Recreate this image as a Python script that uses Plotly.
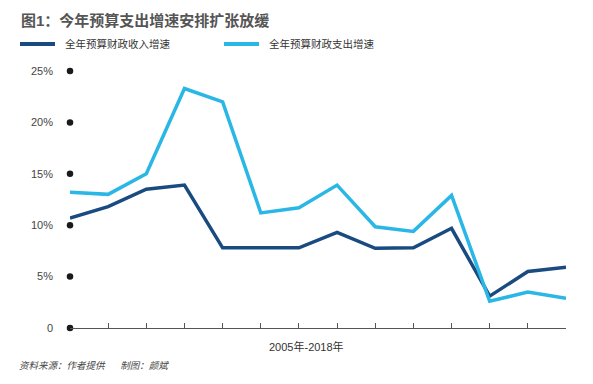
import plotly.graph_objects as go

years = list(range(2005, 2019))
revenue = [10.7, 11.8, 13.5, 13.9, 7.8, 7.8, 7.8, 9.3, 7.75, 7.8, 9.7, 3.1, 5.5, 5.9]
expenditure = [13.2, 13.0, 15.0, 23.3, 22.0, 11.2, 11.7, 13.9, 9.85, 9.4, 12.9, 2.6, 3.5, 2.9]
ytick_vals = [0, 5, 10, 15, 20, 25]
ytick_text = ["0", "5%", "10%", "15%", "20%", "25%"]
series_names = ["全年预算财政收入增速", "全年预算财政支出增速"]
title_text = "图1：今年预算支出增速安排扩张放缓"
xaxis_text = "2005年-2018年"
source_text = "资料来源：作者提供      制图：颜斌"

DARK = "#194b80"
LIGHT = "#2ab7e6"
FONT = "Liberation Sans, Arial, Noto Sans CJK SC, sans-serif"

W, H = 593, 384
L, R, T, B = 70, 27, 71, 56
pw, ph = W - L - R, H - T - B

def px(x):
    return (x - L) / pw

def py(y):
    return (H - B - y) / ph

fig = go.Figure()
fig.add_trace(go.Scatter(x=years, y=revenue, mode="lines", name=series_names[0],
                         line=dict(color=DARK, width=3.5), cliponaxis=False))
fig.add_trace(go.Scatter(x=years, y=expenditure, mode="lines", name=series_names[1],
                         line=dict(color=LIGHT, width=3.5), cliponaxis=False))
fig.add_trace(go.Scatter(x=[years[0]] * len(ytick_vals), y=ytick_vals, mode="markers",
                         marker=dict(color="#1a1a1a", size=6.5), cliponaxis=False,
                         hoverinfo="skip"))

shapes = [
    dict(type="line", xref="paper", yref="paper", x0=px(20), x1=px(55), y0=py(44), y1=py(44),
         line=dict(color=DARK, width=4)),
    dict(type="line", xref="paper", yref="paper", x0=px(224), x1=px(259), y0=py(44), y1=py(44),
         line=dict(color=LIGHT, width=4)),
]

annotations = [
    dict(text="<b>" + title_text + "</b>", x=px(19), y=py(20), xref="paper", yref="paper",
         xanchor="left", yanchor="middle", showarrow=False,
         font=dict(size=15, color="#555555", family=FONT)),
    dict(text=series_names[0], x=px(63), y=py(44), xref="paper", yref="paper",
         xanchor="left", yanchor="middle", showarrow=False,
         font=dict(size=10.5, color="#333333", family=FONT)),
    dict(text=series_names[1], x=px(267), y=py(44), xref="paper", yref="paper",
         xanchor="left", yanchor="middle", showarrow=False,
         font=dict(size=10.5, color="#333333", family=FONT)),
    dict(text=xaxis_text, x=px(306), y=py(346), xref="paper", yref="paper",
         xanchor="center", yanchor="middle", showarrow=False,
         font=dict(size=11, color="#333333", family=FONT)),
    dict(text="<i>" + source_text + "</i>", x=px(17), y=py(365), xref="paper", yref="paper",
         xanchor="left", yanchor="middle", showarrow=False,
         font=dict(size=9.5, color="#444444", family=FONT)),
]

fig.update_layout(
    width=W, height=H,
    margin=dict(l=L, r=R, t=T, b=B),
    paper_bgcolor="white", plot_bgcolor="white",
    showlegend=False,
    shapes=shapes,
    annotations=annotations,
    font=dict(family=FONT, color="#333333"),
    xaxis=dict(range=[years[0], years[-1]], tickvals=years, showticklabels=False,
               ticks="inside", ticklen=5, tickcolor="#555555", tickwidth=1,
               showline=True, linecolor="#555555", linewidth=1.2,
               showgrid=False, zeroline=False, fixedrange=True),
    yaxis=dict(range=[0, 25], tickvals=ytick_vals, ticktext=ytick_text,
               ticks="", ticklabelstandoff=16, showgrid=False, zeroline=False,
               showline=False, tickfont=dict(size=11, color="#444444"), fixedrange=True),
)

fig.write_html("out.html", config={"displayModeBar": False},
               post_script="document.body.style.margin='0';document.body.style.overflow='hidden';")
